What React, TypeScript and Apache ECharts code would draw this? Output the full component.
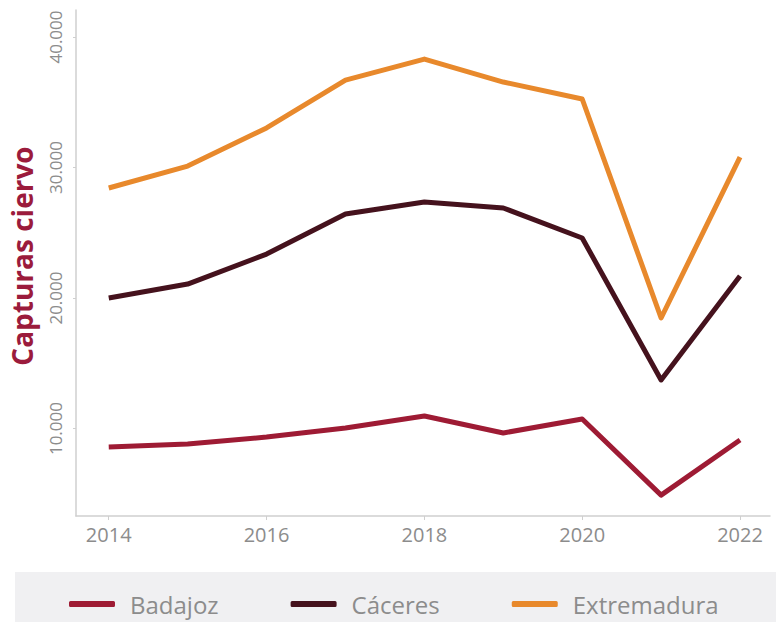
import React, { useEffect, useRef } from "react";
import * as echarts from "echarts";

const years = [2014, 2015, 2016, 2017, 2018, 2019, 2020, 2021, 2022];
const badajoz = [8580, 8810, 9350, 10040, 10960, 9660, 10730, 4900, 9120];
const caceres = [20000, 21070, 23370, 26440, 27360, 26900, 24600, 13720, 21690];
const extremadura = [28430, 30110, 33030, 36700, 38310, 36550, 35250, 18470, 30800];
const xTicks = [2014, 2016, 2018, 2020, 2022];
const yTicks = [10000, 20000, 30000, 40000];
const seriesNames = ["Badajoz", "Cáceres", "Extremadura"];
const colors = ["#9e1b34", "#45121d", "#e8892c"];

const FONT = "'Open Sans', 'Noto Sans', sans-serif";

export default function App() {
  const ref = useRef<HTMLDivElement>(null);
  useEffect(() => {
    if (!ref.current) return;
    const chart = echarts.init(ref.current, null, { renderer: "svg" });
    const data = [badajoz, caceres, extremadura];
    chart.setOption({
      animation: false,
      backgroundColor: "#ffffff",
      graphic: [
        {
          type: "rect",
          shape: { x: 15, y: 572, width: 761, height: 50 },
          style: { fill: "#f0f0f2" },
          z: -10,
        },
      ],
      grid: { left: 71, right: 6, top: 10, bottom: 106, containLabel: false },
      xAxis: {
        type: "value",
        min: 2013.585,
        max: 2022.38,
        axisLine: { show: true, lineStyle: { color: "#cfcfcf", width: 1.5 } },
        axisTick: { show: true, customValues: xTicks, length: 4, lineStyle: { color: "#cfcfcf" } },
        axisLabel: {
          customValues: xTicks,
          color: "#8c8c8c",
          fontSize: 20,
          fontFamily: FONT,
          margin: 8,
          formatter: (v: number) => String(v),
        },
        splitLine: { show: false },
      },
      yAxis: {
        type: "value",
        min: 3300,
        max: 42070,
        name: "Capturas ciervo",
        nameLocation: "middle",
        nameGap: 40,
        nameRotate: 90,
        nameTextStyle: {
          color: "#9b1b3c",
          fontSize: 28,
          fontWeight: "bold",
          fontFamily: FONT,
          padding: [0, 0, 0, 14],
        },
        axisLine: { show: true, lineStyle: { color: "#cfcfcf", width: 1.5 } },
        axisTick: { show: true, customValues: yTicks, length: 3, lineStyle: { color: "#cfcfcf" } },
        axisLabel: {
          customValues: yTicks,
          rotate: 90,
          color: "#8c8c8c",
          fontSize: 17,
          fontFamily: FONT,
          margin: 12,
          formatter: (v: number) => v.toLocaleString("de-DE").replace(",", "."),
        },
        splitLine: { show: false },
      },
      legend: {
        left: 64,
        top: 587,
        icon: "roundRect",
        itemWidth: 46,
        itemHeight: 6,
        itemGap: 72,
        textStyle: { color: "#8c8c8c", fontSize: 24, fontFamily: FONT, padding: [0, 0, 0, 10] },
        data: seriesNames,
      },
      series: seriesNames.map((n, i) => ({
        name: n,
        type: "line",
        data: years.map((y, j) => [y, data[i][j]]),
        showSymbol: false,
        symbol: "none",
        lineStyle: { color: colors[i], width: 5, join: "round" },
        itemStyle: { color: colors[i] },
      })),
    });
    return () => chart.dispose();
  }, []);
  return <div ref={ref} style={{ position: "fixed", left: 0, top: 0, width: 776, height: 622 }} />;
}
